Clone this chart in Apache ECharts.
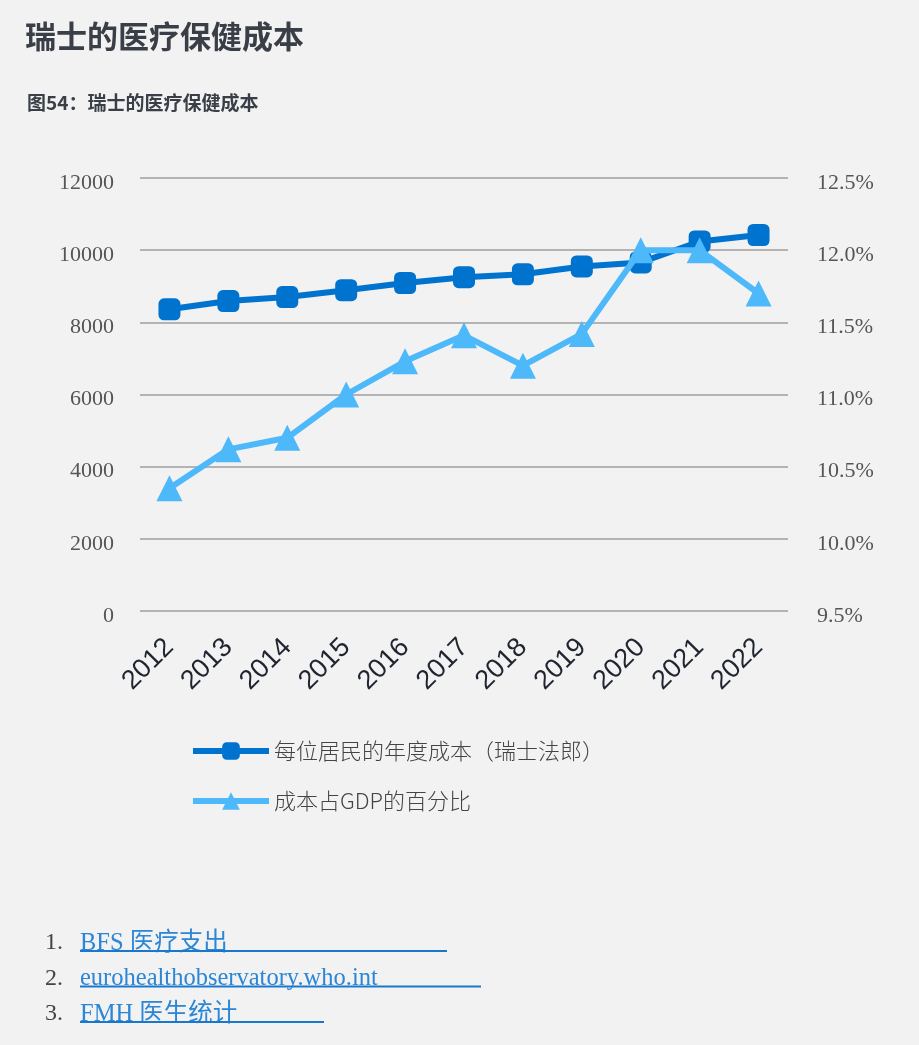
<!DOCTYPE html>
<html>
<head>
<meta charset="utf-8">
<script src="https://cdn.jsdelivr.net/npm/echarts@6/dist/echarts.min.js"></script>
<style>
  html, body { margin: 0; padding: 0; background: #f2f2f2; }
  #box { width: 919px; height: 1045px; }
</style>
</head>
<body>
<div id="box"></div>
<script>
// 年份
let years = ['2012','2013','2014','2015','2016','2017','2018','2019','2020','2021','2022'];
// 每位居民的年度成本（瑞士法郎）
let costPerResident = [8360, 8590, 8700, 8890, 9090, 9250, 9330, 9550, 9660, 10240, 10420];
// 成本占GDP的百分比
let costShareGdp = [10.35, 10.62, 10.7, 11.0, 11.23, 11.41, 11.2, 11.42, 12.0, 12.0, 11.7];

let seriesNames = ['每位居民的年度成本（瑞士法郎）', '成本占GDP的百分比'];
let notes = ['BFS 医疗支出', 'eurohealthobservatory.who.int', 'FMH 医生统计'];
let noteLineEnd = [447, 481, 324];

let serif = '"Liberation Serif", "Noto Sans CJK SC", serif';
let sans = '"Noto Sans CJK SC", sans-serif';

let chart = echarts.init(document.getElementById('box'));

// 脚注
let noteGraphics = [];
notes.forEach(function (t, i) {
    let y = 942 + i * 35.5;
    noteGraphics.push({
        type: 'text', left: 45, top: y - 11,
        style: { text: (i + 1) + '.', font: '24px ' + serif, fill: '#444' }
    });
    noteGraphics.push({
        type: 'text', left: 80, top: y - 11,
        style: { text: t, font: '24.5px ' + serif, fill: '#2b86d6' }
    });
    noteGraphics.push({
        type: 'line',
        shape: { x1: 80, y1: y + 9, x2: noteLineEnd[i], y2: y + 9 },
        style: { stroke: '#1a78cc', lineWidth: 2 }
    });
});

let option = {
    backgroundColor: '#f2f2f2',
    animation: false,
    graphic: [
        {
            type: 'text', left: 25, top: 21,
            style: { text: '瑞士的医疗保健成本', font: 'bold 31px ' + sans, fill: '#3a3e47' }
        },
        {
            type: 'text', left: 27, top: 93,
            style: { text: '图54：瑞士的医疗保健成本', font: 'bold 19px ' + sans, fill: '#3a3e47' }
        }
    ].concat(noteGraphics),
    grid: { left: 140, right: 131, top: 178, bottom: 434 },
    legend: {
        orient: 'vertical',
        left: 190,
        top: 740,
        padding: 0,
        itemWidth: 76,
        itemHeight: 22,
        itemGap: 28,
        textStyle: { fontFamily: sans, fontSize: 22, color: '#444', fontWeight: 300 },
        data: [
            { name: seriesNames[0], lineStyle: { width: 6 } },
            { name: seriesNames[1], lineStyle: { width: 6 } }
        ]
    },
    xAxis: {
        type: 'category',
        data: years,
        axisLine: { show: false },
        axisTick: { show: false },
        axisLabel: {
            rotate: 45,
            margin: 32,
            fontFamily: '"Liberation Sans", Arial, sans-serif',
            fontSize: 27,
            color: '#1f2430'
        }
    },
    yAxis: [
        {
            type: 'value',
            min: 0, max: 12000, interval: 2000,
            axisLine: { show: false },
            axisTick: { show: false },
            splitLine: { lineStyle: { color: '#b3b3b3', width: 2 } },
            axisLabel: {
                margin: 26, fontFamily: serif, fontSize: 22, color: '#555',
                verticalAlign: 'top', lineHeight: 10,
                formatter: function (v) { return String(v); }
            }
        },
        {
            type: 'value',
            min: 9.5, max: 12.5, interval: 0.5,
            axisLine: { show: false },
            axisTick: { show: false },
            splitLine: { show: false },
            axisLabel: {
                margin: 29, fontFamily: serif, fontSize: 22, color: '#555',
                verticalAlign: 'top', lineHeight: 10,
                formatter: function (v) { return v.toFixed(1) + '%'; }
            }
        }
    ],
    series: [
        {
            name: seriesNames[0],
            type: 'line',
            yAxisIndex: 0,
            data: costPerResident,
            symbol: 'roundRect',
            symbolSize: 22,
            lineStyle: { color: '#0073cf', width: 6 },
            itemStyle: { color: '#0073cf' },
            z: 2
        },
        {
            name: seriesNames[1],
            type: 'line',
            yAxisIndex: 1,
            data: costShareGdp,
            symbol: 'triangle',
            symbolSize: 26,
            lineStyle: { color: '#4db8fa', width: 6 },
            itemStyle: { color: '#4db8fa' },
            z: 3
        }
    ]
};
chart.setOption(option);
</script>
</body>
</html>
